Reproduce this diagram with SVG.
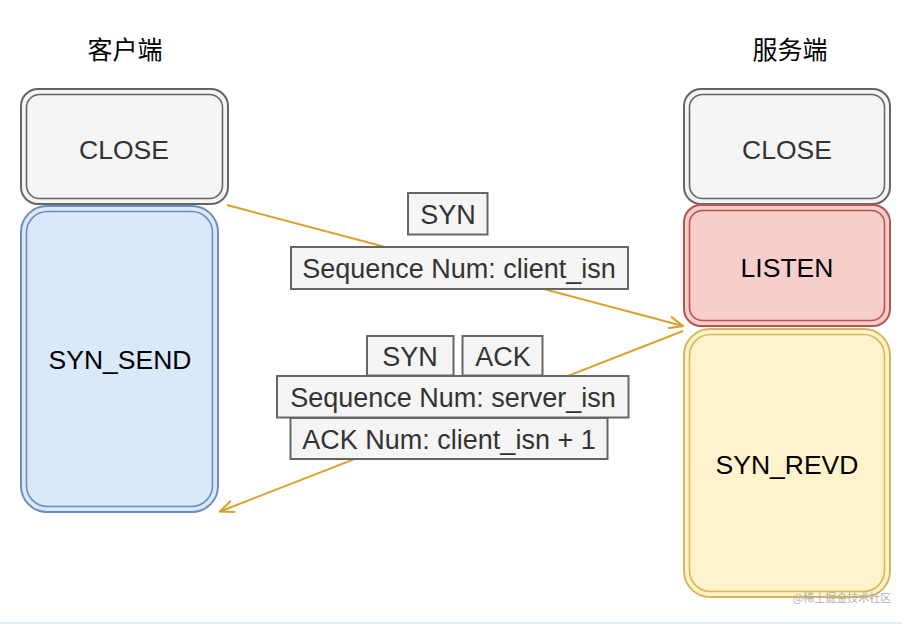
<svg xmlns="http://www.w3.org/2000/svg" width="912" height="644" viewBox="0 0 912 644">
<defs>
<style>
.hdr{font-family:"Noto Sans CJK SC","Liberation Sans",sans-serif;font-size:25px;fill:#000;text-anchor:middle;dominant-baseline:central}
.nl{font-family:"Liberation Sans",Arial,sans-serif;font-size:26.5px;text-anchor:middle;dominant-baseline:central}
.bl{font-family:"Liberation Sans",Arial,sans-serif;font-size:27px;fill:#333;text-anchor:middle;dominant-baseline:central}
.box{fill:#f5f5f5;stroke:#666;stroke-width:2}
.gray{fill:#f5f5f5;stroke:#666}
.blue{fill:#dae8fc;stroke:#6c8ebf}
.red{fill:#f8cecc;stroke:#b85450}
.yel{fill:#fff2cc;stroke:#d6b656}
.o{stroke-width:2}
.i{fill:none;stroke-width:1.6}
.edge{fill:none;stroke:#d9a12a;stroke-width:2}
</style>
<marker id="arr" viewBox="0 0 16 14" refX="15" refY="7" markerWidth="16" markerHeight="14" markerUnits="userSpaceOnUse" orient="auto">
<path d="M1,1 L15,7 L1,13" fill="none" stroke="#d9a12a" stroke-width="2"/>
</marker>
</defs>
<rect width="912" height="644" fill="#fff"/>
<line x1="0" y1="623" x2="902" y2="623" stroke="#d3e6f5" stroke-width="1.5"/>
<text class="hdr" x="125" y="48">客户端</text>
<text class="hdr" x="790" y="48">服务端</text>

<g id="c-syn-send">
<rect class="blue o" x="21" y="206" width="197" height="306" rx="26"/>
<rect class="blue i" x="26.5" y="211.5" width="186" height="295" rx="21"/>
<text class="nl" x="120" y="360" fill="#000">SYN_SEND</text>
</g>
<g id="c-close">
<rect class="gray o" x="21" y="89" width="207" height="115" rx="17"/>
<rect class="gray i" x="26.5" y="94.5" width="196" height="104" rx="13"/>
<text class="nl" x="124" y="150" fill="#333">CLOSE</text>
</g>
<g id="s-close">
<rect class="gray o" x="684" y="89" width="206" height="115" rx="17"/>
<rect class="gray i" x="689.5" y="94.5" width="195" height="104" rx="13"/>
<text class="nl" x="787" y="150" fill="#333">CLOSE</text>
</g>
<g id="s-listen">
<rect class="red o" x="684" y="205" width="206" height="121" rx="17"/>
<rect class="red i" x="689.5" y="210.5" width="195" height="110" rx="13"/>
<text class="nl" x="787" y="268" fill="#000">LISTEN</text>
</g>
<g id="s-syn-revd">
<rect class="yel o" x="684" y="329" width="206" height="268" rx="26"/>
<rect class="yel i" x="689.5" y="334.5" width="195" height="257" rx="21"/>
<text class="nl" x="787" y="465" fill="#000">SYN_REVD</text>
</g>

<g id="connectors">
<path class="edge" d="M227,205 L683,326" marker-end="url(#arr)"/>
<path class="edge" d="M683,331 L220,511.5" marker-end="url(#arr)"/>
</g>

<g id="lbl-syn1">
<rect class="box" x="408" y="193" width="79.5" height="41.5"/>
<text class="bl" x="448" y="215">SYN</text>
</g>
<g id="lbl-seq-client">
<rect class="box" x="291" y="247" width="337" height="42"/>
<text class="bl" x="459" y="269">Sequence Num: client_isn</text>
</g>
<g id="lbl-syn2">
<rect class="box" x="367" y="336" width="86.5" height="39.5"/>
<text class="bl" x="410" y="357">SYN</text>
</g>
<g id="lbl-ack">
<rect class="box" x="462.5" y="336" width="80" height="39.5"/>
<text class="bl" x="503" y="357">ACK</text>
</g>
<g id="lbl-seq-server">
<rect class="box" x="277" y="376" width="351.5" height="41.5"/>
<text class="bl" x="453" y="398">Sequence Num: server_isn</text>
</g>
<g id="lbl-ack-num">
<rect class="box" x="290.5" y="418" width="317" height="41"/>
<text class="bl" x="449" y="440">ACK Num: client_isn + 1</text>
</g>
<text x="842" y="597" font-family="Noto Sans CJK SC,sans-serif" font-size="11" fill="#b0b0b0" text-anchor="middle" dominant-baseline="central">@稀土掘金技术社区</text>
</svg>
